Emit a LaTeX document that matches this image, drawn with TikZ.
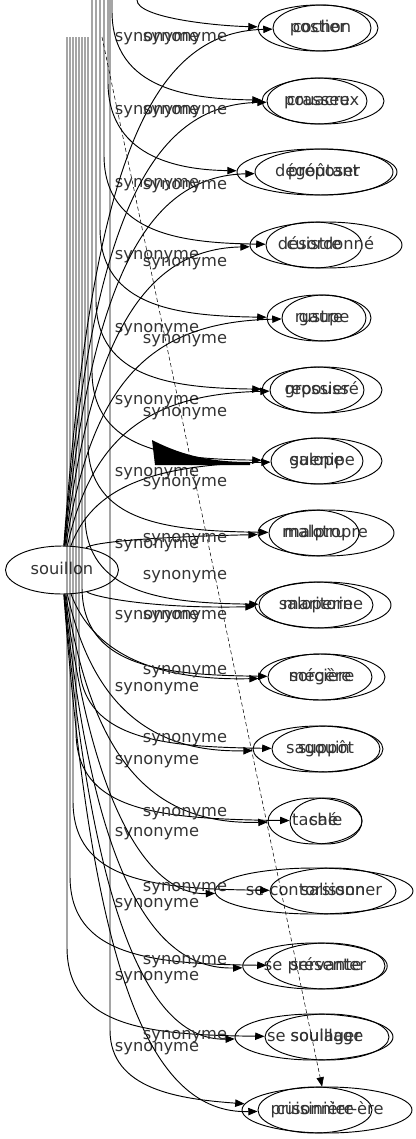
\documentclass[tikz,border=0pt]{standalone}
\usepackage{fontspec}
\setmainfont{DejaVu Sans}
\usetikzlibrary{arrows.meta, shapes.geometric}

\begin{document}
\begin{tikzpicture}[x=0.75pt, y=-0.75pt]
  % Styles
  \tikzstyle{word} = [ellipse, draw, line width=0.7pt, inner sep=0pt, minimum height=34.5pt, text height=9pt, text depth=2.9pt, font=\fontsize{12.2}{14}\selectfont, text=black!80]
  \tikzstyle{lab} = [inner sep=0pt, text height=9pt, text depth=2.9pt, font=\fontsize{12.2}{14}\selectfont, text=black!80]
  \tikzstyle{syn} = [draw, line width=0.7pt, -{Triangle[length=7pt, width=5.5pt]}]
  \useasboundingbox (0,0) rectangle (416,1139);
  % Source word
  \node[word, minimum width=84.75pt, minimum height=36pt] (souillon) at (62,570) {souillon};
  % Two synonyms per row, drawn over each other
  \foreach \r/\y/\xa/\rxa/\ta/\xb/\rxb/\tb in {
      1/28/318/60/postier/322/49/cochon,
      2/101/323/61/crasseux/317/50/pouacre,
      3/172/317/80/dégoûtant/324/69/préposer,
      4/245/314/48/cuistre/326/76/désordonné,
      5/318/319/52/rustre/324/42/gaupe,
      6/390/322/60/repoussé/317/47/grossier,
      7/461/322/60/guenipe/317/46/salope,
      8/533/314/42/malotru/326/68/malpropre,
      9/605/316/57/saloperie/323/68/maritorne,
      10/677/320/52/mégère/322/63/sorcière,
      11/749/326/54/suppôt/318/65/sagouin,
      12/821/326/36/sale/315/47/taché,
      13/891/333/63/salisson/314/99/se contorsionner,
      14/966/326/59/servante/315/70/se présenter,
      15/1037/327/62/souillage/314/79/se soulager,
      16/1110/327/85/prisonnier-ère/315/57/cuisinière}
  {
    \node[word, minimum width=\rxa*1.5pt] (a\r) at (\xa,\y) {\ta};
    \node[word, minimum width=\rxb*1.5pt] (b\r) at (\xb,\y) {\tb};
  }
  % Connections coming down from the top
  \foreach \r/\y/\sx/\sy/\la in {1/28/137/0/37, 2/101/112/0/110, 3/172/108/0/183,
      4/245/104/0/255, 5/318/100/0/328, 6/390/96/0/400, 7/461/92/0/472,
      8/533/88/37/544, 9/605/85/37/615, 10/677/82/37/687, 11/749/79/37/760,
      12/821/76/37/832, 13/891/73/37/903, 14/966/70/37/976, 15/1037/67/37/1047}
  {
    \coordinate (tA\r) at (\sx,\sy);
    \pgfmathsetmacro\yb{max(\y-90,\sy)}
    \draw[syn] (tA\r) -- (\sx,\yb) .. controls (\sx,\y-10) and (\sx+80,\y-2) .. (a\r);
    \node[lab] (la\r) at (157,\la) {synonyme};
  }
  \coordinate (tA16) at (110,0);
  \draw[syn] (tA16) -- (110,1030) .. controls (110,1090) and (180,1099) .. (a16);
  \coordinate (tD) at (102,37);
  \draw[syn, line width=0.4pt, dash pattern=on 3pt off 2pt] (tD) -- (a16);
  % Connections from souillon
  \foreach \r/\y/\lb in {1/28/37, 2/101/110, 3/172/185, 4/245/262, 5/318/339,
      6/390/412, 7/461/482, 8/533/538, 9/605/575, 10/677/615, 11/749/670,
      12/821/738, 13/891/812, 14/966/887, 15/1037/960, 16/1110/1035}
  {
    \pgfmathsetmacro\cy{570+0.75*(\y-570)}
    \draw[syn] (souillon) .. controls (92,\cy) and (150,\y+4) .. (b\r);
    \node[lab] (lb\r) at (185,\lb) {synonyme};
  }
  % Filled wedge next to guenipe
  \fill (152,440) .. controls (185,457) and (215,462) .. (250,462) -- (250,465) -- (155,465) -- cycle;
\end{tikzpicture}
\end{document}
